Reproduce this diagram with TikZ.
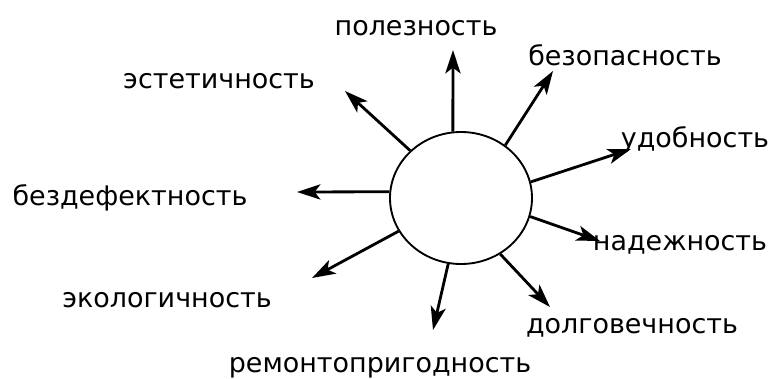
\documentclass[tikz,border=0pt]{standalone}
\usepackage{fontspec}
\setmainfont{DejaVu Sans}
\usetikzlibrary{arrows.meta,shapes.geometric}

\begin{document}
\begin{tikzpicture}[x=0.03cm,y=-0.03cm,
    lbl/.style={anchor=base,inner sep=0pt,font=\fontsize{23}{27}\selectfont},
    ray/.style={-{Stealth[length=20pt,width=13pt,inset=5pt]},line width=2.4pt}]
    \useasboundingbox (0,0) rectangle (776,378);
    \node[draw,ellipse,line width=1.6pt,inner sep=0pt,
          minimum width=4.26cm,minimum height=3.96cm] (c) at (461,198) {};
    % arrow tips
    \coordinate (t1) at (453,50);
    \coordinate (t2) at (553,71);
    \coordinate (t3) at (345,91);
    \coordinate (t4) at (631,149);
    \coordinate (t5) at (600,241);
    \coordinate (t6) at (550,307);
    \coordinate (t7) at (433,330);
    \coordinate (t8) at (312,278);
    \coordinate (t9) at (297,192);
    \draw[ray] (c.97) -- (t1);
    \draw[ray] (c.50) -- (t2);
    \draw[ray] (c.137) -- (t3);
    \draw[ray] (c.13) -- (t4);
    \draw[ray] (c.-15) -- (t5);
    \draw[ray] (c.-55) -- (t6);
    \draw[ray] (c.-101) -- (t7);
    \draw[ray] (c.-152) -- (t8);
    \draw[ray] (c.175) -- (t9);
    % labels
    \node[lbl] (polez) at (416,35) {полезность};
    \node[lbl] (bezop) at (625,65) {безопасность};
    \node[lbl] (estet) at (219,88) {эстетичность};
    \node[lbl] (udob) at (695,147) {удобность};
    \node[lbl] (nadez) at (680,250) {надежность};
    \node[lbl] (bezdef) at (130,205) {бездефектность};
    \node[lbl] (ekol) at (167,307) {экологичность};
    \node[lbl] (dolg) at (632,333) {долговечность};
    \node[lbl] (remont) at (380,372) {ремонтопригодность};
\end{tikzpicture}
\end{document}
